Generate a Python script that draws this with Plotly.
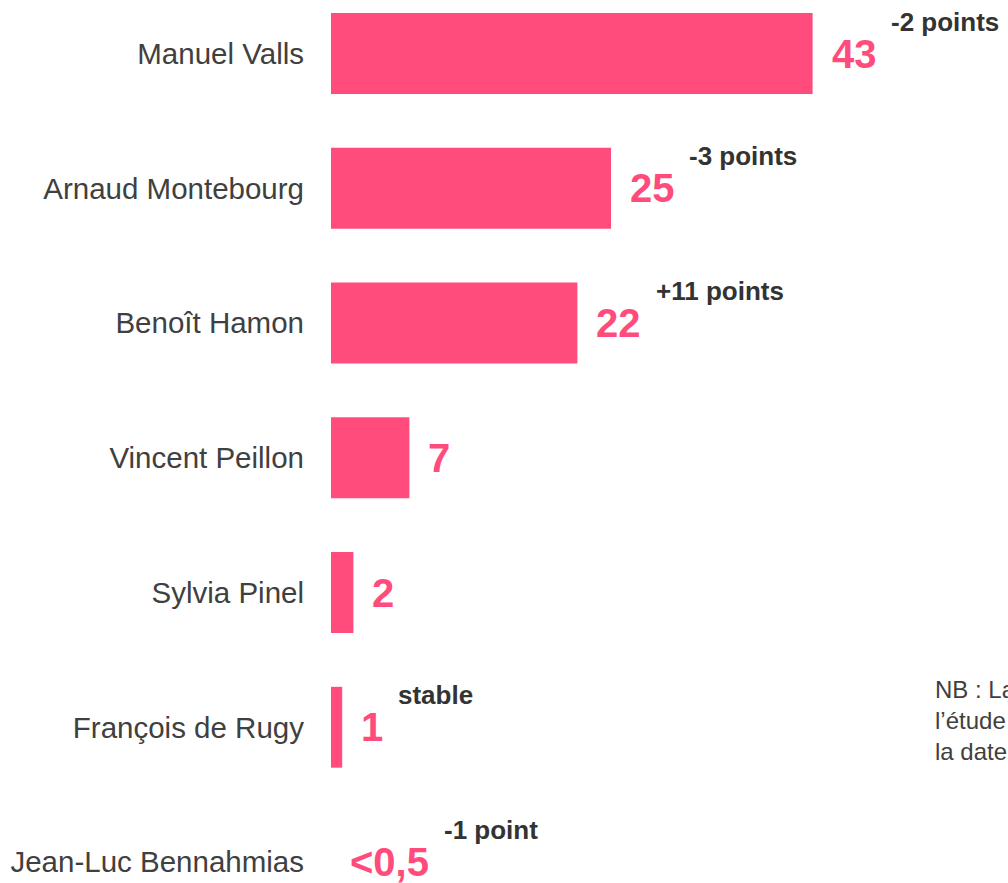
import plotly.graph_objects as go

# ---- data ----
candidates = ["Manuel Valls", "Arnaud Montebourg", "Benoît Hamon", "Vincent Peillon",
              "Sylvia Pinel", "François de Rugy", "Jean-Luc Bennahmias"]
values = [43, 25, 22, 7, 2, 1, 0]
value_labels = ["43", "25", "22", "7", "2", "1", "<0,5"]
changes = ["-2 points", "-3 points", "+11 points", "", "", "stable", "-1 point"]
note_lines = ["NB : La comparaison porte sur", "l’étude précédente, réalisée à", "la date du 15 décembre 2016"]

PINK = "#FF4C7C"
GREY = "#404040"
DARK = "#333333"
FONT = "Liberation Sans"

W, H = 1008, 883
L = 331
PX_PER_UNIT = 11.2
ROW = 134.75
FIRST_CENTER = 53.5

# Arial bold advance widths (per 1000 em) for value-label glyphs
ADV = {"<": 584, ",": 278}
def bold_width(txt, size):
    return sum(ADV.get(c, 556) for c in txt) * size / 1000.0

fig = go.Figure()
fig.add_trace(go.Bar(
    x=values, y=candidates, orientation="h",
    marker=dict(color=PINK, line=dict(width=0)),
    width=0.6, hoverinfo="skip",
))

VAL_SIZE = 40
for cand, v, vl, ch in zip(candidates, values, value_labels, changes):
    fig.add_annotation(x=v, y=cand, xref="x", yref="y", text=vl, showarrow=False,
                       xanchor="left", yanchor="middle", xshift=17,
                       font=dict(family=FONT, size=VAL_SIZE, color=PINK, weight="bold"))
    if ch:
        fig.add_annotation(x=v, y=cand, xref="x", yref="y", text=ch, showarrow=False,
                           xanchor="left", yanchor="middle",
                           xshift=17 + bold_width(vl, VAL_SIZE) + 15, yshift=32,
                           font=dict(family=FONT, size=26, color=DARK, weight="bold"))

fig.add_annotation(x=(933 - L) / (W - L), y=(H - 674) / H, xref="x domain", yref="paper",
                   text="<br>".join(note_lines),
                   showarrow=False, xanchor="left", yanchor="top", align="left",
                   font=dict(family=FONT, size=24, color=GREY))

lo = -FIRST_CENTER / ROW
hi = (H - FIRST_CENTER) / ROW
fig.update_layout(
    width=W, height=H,
    margin=dict(l=L, r=0, t=0, b=0),
    paper_bgcolor="white", plot_bgcolor="white",
    showlegend=False,
    xaxis=dict(range=[0, (W - L) / PX_PER_UNIT], visible=False, fixedrange=True),
    yaxis=dict(categoryorder="array", categoryarray=candidates,
               range=[hi, lo], showgrid=False, zeroline=False, showline=False,
               ticks="", ticklabelstandoff=26, automargin=False, fixedrange=True,
               tickfont=dict(family=FONT, size=29.5, color=GREY)),
)
fig.write_html("out.html", config={"displayModeBar": False},
               post_script="document.body.style.margin='0';document.body.style.overflow='hidden';")
